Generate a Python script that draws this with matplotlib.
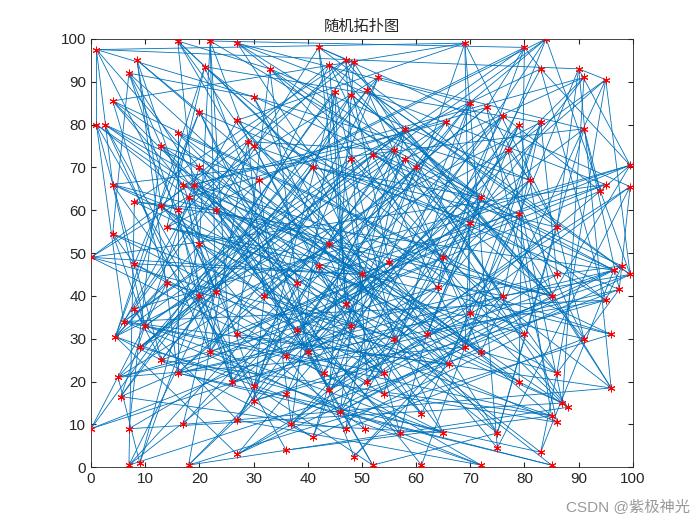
import matplotlib
matplotlib.use("Agg")
import matplotlib.pyplot as plt

plt.rcParams['font.family'] = ['Liberation Sans', 'Noto Sans CJK SC', 'DejaVu Sans']

xs = [1,16,22,27,42,69,80,84,7,8.5,21,33,44,47,48.5,53,83,90,91,95,4,20,30,45,48,51,70,73,76,1,2.5,16,27,65.5,79,83,91,29,30,58,13,20,41,58,60,56,77,99.5,4,17,18,8,19,31,52,48,81,94,95,99.5,13,16,14,4,72,79,86,86,0,8,20,23,44,55,65,70,96.5,98,99.5,97.5,95,8,14,20,23,32,38,42,47,50,64,70,76,85,6,10,4.5,27,38,40,48,56,62,69,72,80,91,96,9,13,16,22,26,30,36,43,51,54,66,79,86,96,5,5.5,30,36,44,54,61,65,75,87,88,85,0,7,17,27,37,41,46,47,50.5,57,75,83,86,7,9,18,27,36,48.5,52,61,72,85]
ys = [97.5,99.5,99.5,99,98,99,98,100,92,95,93.5,93,94,95,94.5,91,93,93,91,90.5,85.5,83,86.5,87.5,87,88,85,84,82,80,80,78,81,80.5,80,80.5,79,76,75,79,75,70,70,72,70,74,74,70.5,66,66,63,62,66,67,73,72,67,64.5,66,65.5,61,60,56,54.5,63,59,56,45,49,47.5,52,60,52,48,49,57,46,47,45,41.5,39,37,43,40,41,40,43,47,38,45,42,36,40,40,34,33,30.5,31,32,27,33,30,31,28,27,31,30,31,28,25,22,27,20,19,26,22,20,22,24,20,22,18.5,21,16.5,15.5,17,18,17,12.5,8,8,15,14,12,9,9,10,11,10,7,13,9,9,8,4.5,3.5,10.5,0.5,1,0.5,3,4,2.5,0.5,0.5,0.5,0.5]

edges_txt = """
0-5 0-29 0-48 0-41 1-11 1-53 1-90 2-6 2-37 2-112 3-26 3-58 4-14 4-71 4-100
5-32 5-66 5-144 6-16 6-90 6-119 7-33 7-62 7-57 8-40 8-118 8-22 9-21 9-84
10-35 10-152 11-44 11-97 12-60 12-147 13-73 13-106 14-123 15-86 15-36 16-55
17-19 17-47 17-103 18-75 18-131 19-78 19-120 20-49 20-82 21-69 21-115 22-77
23-88 23-138 24-64 24-91 25-109 26-44 26-127 27-50 27-146 28-99 28-85 29-49
29-94 30-41 30-151 31-74 31-110 32-102 33-52 33-121 34-46 34-141 35-67 35-96
36-79 36-114 37-105 37-45 38-81 38-158 39-72 39-125 40-53 40-135 41-89 42-66
42-129 43-76 43-108 44-92 45-65 45-132 46-56 47-57 47-87 48-95 48-61 49-113
50-83 50-143 51-60 51-71 52-93 53-104 54-80 54-137 55-111 56-98 57-78 58-68
59-79 59-101 60-117 61-84 62-107 63-69 63-95 64-88 65-97 66-126 67-77 68-100
69-116 70-85 70-148 71-107 72-122 73-98 74-90 75-103 76-110 77-80 78-92 79-120
80-124 81-95 82-118 83-112 84-136 85-101 86-113 87-119 88-128 89-130 90-99
91-131 92-126 93-140 94-155 95-117 96-139 97-142 98-133 99-149 100-134 101-145
102-150 103-154 104-147 105-157 106-159 107-160 108-163 109-165 110-156 111-162
112-164 113-153 114-166 115-161 116-167 117-143 118-152 119-158 120-145 121-136
122-148 123-141 124-139 125-150 126-157 127-146 128-162 129-138 130-153 131-135
132-149 133-151 134-159 137-155 140-156 142-163 144-165 0-22 1-42 2-70 3-93
4-59 5-91 6-27 7-115 8-63 9-110 10-96 11-56 12-78 13-62 14-126 15-68 16-47
17-121 18-99 19-46 20-107 21-142 22-101 23-134 24-111 25-66 26-98 27-85 28-57
29-86 30-118 31-119 32-75 33-137 34-125 35-92 36-130 37-149 38-127 39-108
40-104 41-153 42-83 43-114 44-139 45-100 46-131 47-81 48-113 49-72 50-61
51-88 52-120 53-96 54-108 55-132 56-140 57-123 58-109 59-144 60-76 61-97
62-105 63-117 64-90 65-128 66-106 67-150 68-129 69-89 70-131 71-154 72-93
73-147 74-111 75-138 76-145 77-116 78-124 79-103 80-94 81-157 82-96 83-160
84-127 85-146 86-99 87-137 88-149 89-114 90-122 91-106 92-152 93-163 94-133
95-129 96-155 97-165 98-135 99-161 100-140 101-167 102-143 103-150 104-120
0-61 3-118 6-96 9-133 12-103 15-85 18-52 21-79 24-123 27-66 30-89 33-110
36-57 39-94 42-64 45-112 48-131 51-147 54-76 57-102 60-141 63-101 66-130
69-155 72-144 75-97 78-127 81-109 84-162 87-104 90-138 93-121 96-150 99-126
1-70 2-84 4-89 5-73 7-95 8-99 10-62 11-120 12-88 13-51 14-105 16-80 17-66
19-104 20-86 22-117 23-101 25-93 26-140 28-116 29-109 31-61 32-89 34-93 35-103
37-85 38-100 39-141 40-98 41-123 43-99 44-115 46-108 47-93 49-103 50-89 52-128
53-138 55-94 56-126 58-86 59-116 60-98 61-111 62-92 64-102 65-133 67-122 68-89
70-112 71-126 73-130 74-121 76-102 77-140 79-112 80-99 82-134 83-148 85-124
86-147 87-129 88-156 89-139 91-110 92-134 94-118 95-137 97-121 98-153 100-113
101-126 102-160 103-122 105-139 106-141 107-149 108-129 109-133 110-145 111-140
0-17 1-38 2-45 3-64 4-78 5-20 6-53 7-102 8-112 9-60 10-74 11-86 12-93 13-116
14-68 15-122 16-101 18-43 19-88 20-132 21-96 22-56 23-124 24-80 25-104 26-106
27-110 28-112 29-124 30-111 31-88 32-96 33-95 34-102 35-118 36-48 37-94 38-76
39-93 40-86 41-128 42-109 43-120 44-136 45-108 46-100 47-89 48-93 49-130
"""
n = min(len(xs), len(ys))
edges = [tuple(int(v) for v in p.split('-')) for p in edges_txt.split()]
edges = [(a, b) for a, b in edges if a < n and b < n]

fig = plt.figure(figsize=(7, 5.25), dpi=100)
ax = fig.add_axes([0.13, 0.11, 0.774, 0.816])
for a, b in edges:
    ax.plot([xs[a], xs[b]], [ys[a], ys[b]], color='#0072BD', lw=0.6)
ax.plot(xs[:n], ys[:n], ls='none', marker=(6, 2, 0), ms=5.5, mec='red', mew=0.7, zorder=5)
ax.set_xlim(0, 100); ax.set_ylim(0, 100)
ax.set_xticks(range(0, 101, 10)); ax.set_yticks(range(0, 101, 10))
ax.tick_params(direction='in', top=True, right=True, labelsize=11, color='#262626', labelcolor='#262626')
for s in ax.spines.values():
    s.set_color('#262626'); s.set_linewidth(0.6)
ax.set_title('随机拓扑图', fontsize=11, color='#262626')
fig.text(0.985, 0.02, 'CSDN @紫极神光', ha='right', va='bottom', fontsize=11, color='#999999')
fig.savefig('out.png')
